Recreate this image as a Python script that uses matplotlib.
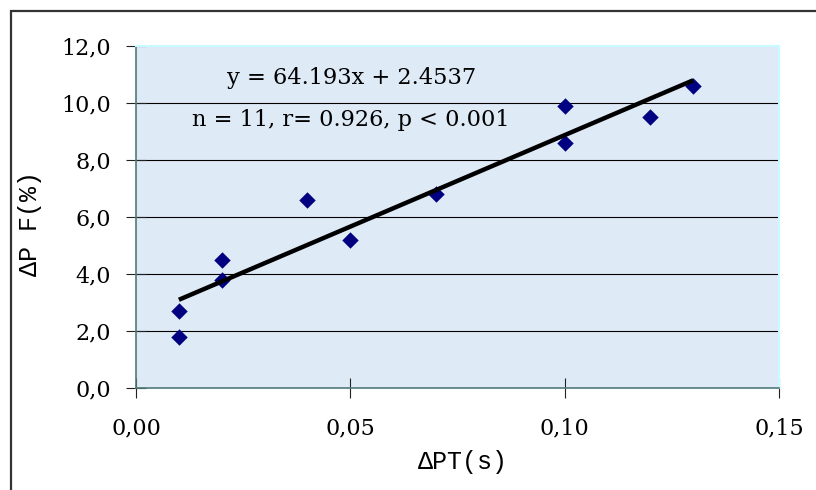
import matplotlib.pyplot as plt
import matplotlib.patches as patches
import numpy as np

# data
dpt = [0.01, 0.01, 0.02, 0.02, 0.04, 0.05, 0.07, 0.10, 0.10, 0.12, 0.13]
dpf = [2.7, 1.8, 4.5, 3.8, 6.6, 5.2, 6.8, 9.9, 8.6, 9.5, 10.6]
slope = 64.193
intercept = 2.4537
x_ticks = [0.00, 0.05, 0.10, 0.15]
x_tick_labels = ['0,00', '0,05', '0,10', '0,15']
y_ticks = [0, 2, 4, 6, 8, 10, 12]
y_tick_labels = ['0,0', '2,0', '4,0', '6,0', '8,0', '10,0', '12,0']

serif = ['DejaVu Serif']
mono = ['Liberation Mono', 'DejaVu Sans Mono']

fig = plt.figure(figsize=(8.16, 4.9), dpi=100)
W, H = 816, 490

# outer chart frame (only top and left edges visible in the crop)
fig.add_artist(patches.Rectangle((11 / W, -0.1), 1.2, 1 - 11 / H + 0.1,
                                 transform=fig.transFigure, fill=False,
                                 edgecolor='#333333', linewidth=1.6))

ax = fig.add_axes([136 / W, 1 - 388 / H, (779 - 136) / W, (388 - 46) / H])
ax.set_facecolor('#dfeaf7')
ax.set_xlim(0, 0.15)
ax.set_ylim(0, 12)

for y in y_ticks[1:-1]:
    ax.axhline(y, color='black', linewidth=0.8, zorder=1)

ax.scatter(dpt, dpf, marker='D', s=70, color='#000080', zorder=3, linewidths=0)

xs = np.array([min(dpt), max(dpt)])
ax.plot(xs, slope * xs + intercept, color='black', linewidth=3.2,
        solid_capstyle='butt', zorder=4)

ax.text(0.0504, 10.88, 'y = 64.193x + 2.4537', ha='center', va='center',
        fontsize=16.2, family=serif)
ax.text(0.0502, 9.4, 'n = 11, r= 0.926, p < 0.001', ha='center', va='center',
        fontsize=16.2, family=serif)

for side in ['left', 'bottom']:
    ax.spines[side].set_color('#4f7a7a')
    ax.spines[side].set_linewidth(1.2)
for side in ['top', 'right']:
    ax.spines[side].set_color('#c8fbff')
    ax.spines[side].set_linewidth(1.5)

ax.set_xticks(x_ticks)
ax.set_xticklabels(x_tick_labels, family=serif, fontsize=16)
ax.set_yticks(y_ticks)
ax.set_yticklabels(y_tick_labels, family=serif, fontsize=16)
ax.tick_params(axis='both', direction='inout', length=14, width=0.8,
               color='#222222')
ax.tick_params(axis='x', pad=14)
ax.tick_params(axis='y', pad=11)

ax.set_xlabel('ΔPT(s)', family=mono, fontsize=18)
ax.set_ylabel('ΔP F(%)', family=mono, fontsize=18)
ax.xaxis.set_label_coords(0.509, -0.18)
ax.yaxis.set_label_coords(-0.146, 0.48)

fig.savefig('out.png', dpi=100)
